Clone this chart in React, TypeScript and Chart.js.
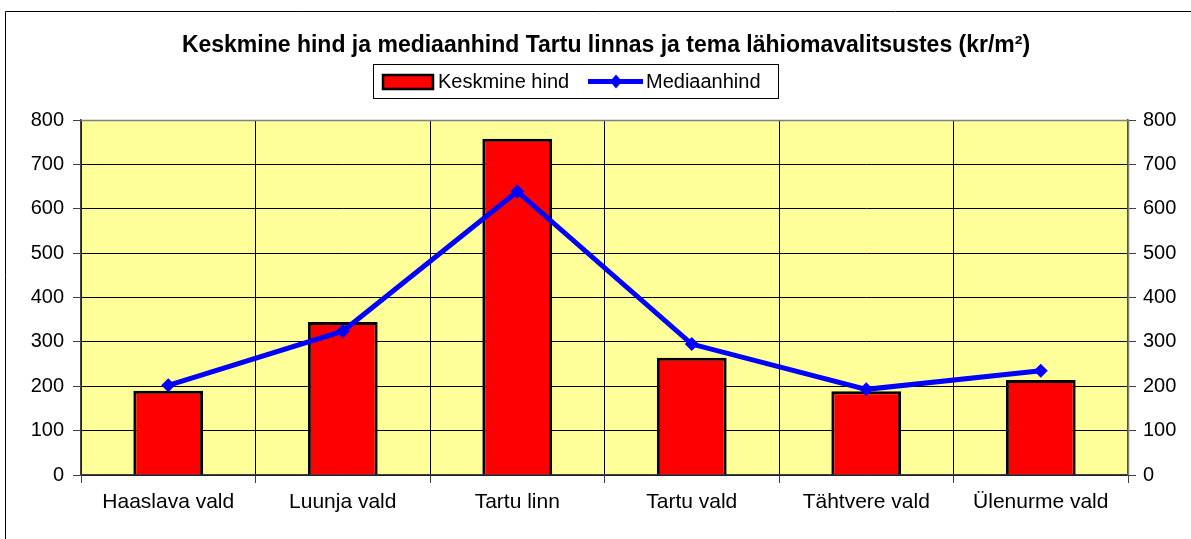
import React, { useEffect, useRef } from "react";
import { Chart, registerables } from "chart.js";

Chart.register(...registerables);

const categories = [
  "Haaslava vald",
  "Luunja vald",
  "Tartu linn",
  "Tartu vald",
  "Tähtvere vald",
  "Ülenurme vald",
];
const keskmineHind = [190, 345, 758, 264, 189, 214];
const mediaanhind = [202, 324, 639, 295, 193, 235];
const yMin = 0;
const yMax = 800;
const yStep = 100;
const titleText =
  "Keskmine hind ja mediaanhind Tartu linnas ja tema lähiomavalitsustes (kr/m²)";
const legendLabels = ["Keskmine hind", "Mediaanhind"];

const FONT = "'Liberation Sans', Arial, sans-serif";

const decorPlugin = {
  id: "decor",
  beforeDraw(chart: any) {
    const { ctx, chartArea } = chart;
    ctx.save();
    ctx.fillStyle = "#ffffff";
    ctx.fillRect(0, 0, chart.width, chart.height);
    ctx.fillStyle = "#FFFF99";
    ctx.fillRect(
      chartArea.left,
      chartArea.top,
      chartArea.right - chartArea.left,
      chartArea.bottom - chartArea.top
    );
    ctx.restore();
  },
  afterDraw(chart: any) {
    const { ctx, chartArea } = chart;
    ctx.save();
    // plot area border (top & right)
    ctx.strokeStyle = "#808080";
    ctx.lineWidth = 1.5;
    ctx.beginPath();
    ctx.moveTo(chartArea.left, chartArea.top + 0.5);
    ctx.lineTo(chartArea.right + 0.5, chartArea.top + 0.5);
    ctx.lineTo(chartArea.right + 0.5, chartArea.bottom);
    ctx.stroke();

    // outer frame
    ctx.strokeStyle = "#000000";
    ctx.lineWidth = 1;
    ctx.beginPath();
    ctx.moveTo(5.5, chart.height + 2);
    ctx.lineTo(5.5, 11.5);
    ctx.lineTo(chart.width + 2, 11.5);
    ctx.stroke();

    // title
    ctx.fillStyle = "#000000";
    ctx.font = `bold 23px ${FONT}`;
    ctx.textAlign = "center";
    ctx.textBaseline = "middle";
    ctx.fillText(titleText, 606, 46);

    // legend
    ctx.strokeStyle = "#000000";
    ctx.lineWidth = 1;
    ctx.strokeRect(373.5, 64.5, 405, 34);
    const ly = 81.5;
    ctx.fillStyle = "#FF0000";
    ctx.fillRect(383, 75, 50, 14);
    ctx.lineWidth = 2.5;
    ctx.strokeRect(383, 75, 50, 14);
    ctx.fillStyle = "#000000";
    ctx.font = `20px ${FONT}`;
    ctx.textAlign = "left";
    ctx.fillText(legendLabels[0], 438, ly + 1);

    ctx.strokeStyle = "#0000FF";
    ctx.lineWidth = 5;
    ctx.beginPath();
    ctx.moveTo(588, ly);
    ctx.lineTo(643, ly);
    ctx.stroke();
    ctx.fillStyle = "#0000FF";
    ctx.beginPath();
    ctx.moveTo(616, ly - 7);
    ctx.lineTo(622, ly);
    ctx.lineTo(616, ly + 7);
    ctx.lineTo(610, ly);
    ctx.closePath();
    ctx.fill();
    ctx.fillStyle = "#000000";
    ctx.fillText(legendLabels[1], 646, ly + 1);
    ctx.restore();
  },
};

export default function App() {
  const canvasRef = useRef<HTMLCanvasElement | null>(null);

  useEffect(() => {
    document.body.style.margin = "0";
    const canvas = canvasRef.current;
    if (!canvas) return;
    const tickFont = { family: FONT, size: 20 };
    const chart = new Chart(canvas, {
      type: "bar",
      data: {
        labels: categories,
        datasets: [
          {
            type: "line",
            label: legendLabels[1],
            data: mediaanhind,
            yAxisID: "y2",
            borderColor: "#0000FF",
            backgroundColor: "#0000FF",
            borderWidth: 5,
            pointStyle: "rectRot",
            pointRadius: 7,
            pointBorderWidth: 0,
            pointBackgroundColor: "#0000FF",
            tension: 0,
            order: 0,
          } as any,
          {
            type: "bar",
            label: legendLabels[0],
            data: keskmineHind,
            yAxisID: "y",
            backgroundColor: "#FF0000",
            borderColor: "#000000",
            borderWidth: 3,
            barPercentage: 0.4,
            categoryPercentage: 1.0,
            order: 1,
          } as any,
        ],
      },
      options: {
        responsive: false,
        animation: false,
        devicePixelRatio: 1,
        layout: { padding: { top: 120, left: 0, right: 0, bottom: 0 } },
        plugins: {
          legend: { display: false },
          title: { display: false },
          tooltip: { enabled: false },
        },
        scales: {
          x: {
            type: "category",
            offset: true,
            grid: {
              offset: true,
              color: "#000000",
              lineWidth: 1,
              tickLength: 8,
              tickColor: "#404040",
            },
            border: { color: "#404040", width: 1.5 },
            ticks: { font: { family: FONT, size: 21 }, color: "#000000", padding: 7, maxRotation: 0 },
            afterFit: (s: any) => {
              s.height = 64;
            },
          },
          y: {
            position: "left",
            min: yMin,
            max: yMax,
            ticks: { stepSize: yStep, font: tickFont, color: "#000000", padding: 9 },
            grid: {
              color: "#000000",
              lineWidth: 1,
              tickLength: 8,
              tickColor: "#404040",
            },
            border: { color: "#404040", width: 1.5 },
            afterFit: (s: any) => {
              s.width = 81;
            },
          },
          y2: {
            position: "right",
            min: yMin,
            max: yMax,
            ticks: { stepSize: yStep, font: tickFont, color: "#000000", padding: 7 },
            grid: {
              drawOnChartArea: false,
              tickLength: 8,
              tickColor: "#404040",
            },
            border: { color: "#404040", width: 1.5 },
            afterFit: (s: any) => {
              s.width = 63;
            },
          },
        },
      } as any,
      plugins: [decorPlugin],
    });
    return () => chart.destroy();
  }, []);

  return (
    <div style={{ position: "fixed", left: 0, top: 0, width: 1191, height: 539 }}>
      <canvas ref={canvasRef} width={1191} height={539} style={{ display: "block" }} />
    </div>
  );
}
